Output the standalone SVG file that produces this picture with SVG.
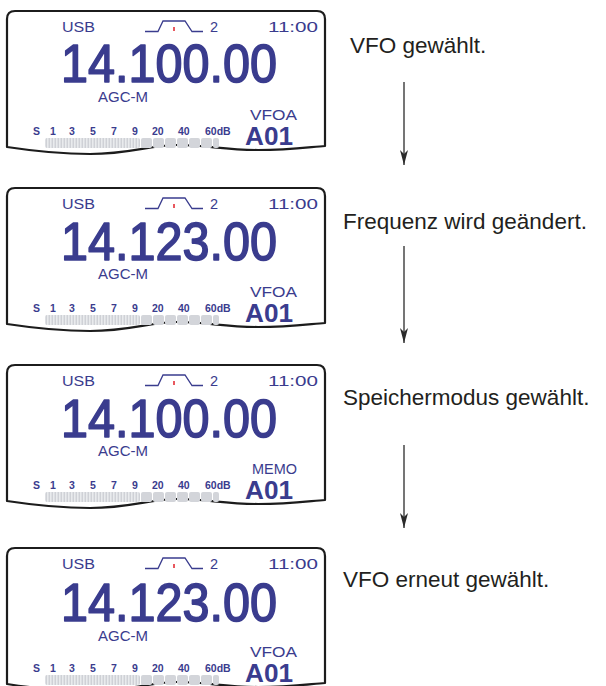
<svg xmlns="http://www.w3.org/2000/svg" width="606" height="686" viewBox="0 0 606 686">
<style>
.frame{fill:#fff;stroke:#1c1c1c;stroke-width:2.2;stroke-linejoin:round}
.lcd{fill:#3a3c8e;font-family:"Liberation Sans",Arial,sans-serif}
.big{font-size:53px;stroke:#3a3c8e;stroke-width:1.6;stroke-linejoin:round}
.sm{font-size:14.5px}
.sc{font-size:10.5px;font-weight:bold}
.ab{font-size:25px;font-weight:bold}
.lbl{fill:#231f20;font-family:"Liberation Sans",Arial,sans-serif;font-size:22.5px}
.arr{stroke:#2b2b2b;stroke-width:1.3;fill:none}
.icon{stroke:#3a3c8e;stroke-width:1.3;fill:none}
</style>
<defs>
<marker id="ah" viewBox="0 0 15 8" refX="15" refY="4" markerWidth="15" markerHeight="8" markerUnits="userSpaceOnUse" orient="auto">
<path d="M0,0 L15,4 L0,8 L4,4 Z" fill="#2b2b2b"/>
</marker>
<pattern id="stripes" x="0" y="0" width="3" height="10" patternUnits="userSpaceOnUse">
<rect x="0" y="0" width="3" height="10" fill="#eceef0"/>
<rect x="0.5" y="0" width="1.6" height="10" fill="#cfd1d6"/>
</pattern>
<g id="tpl">
<path class="frame" d="M7,136 V8 Q7,0 15,0 H317 Q325,0 325,8 V135 C310,136 290,139 258,139 C225,139 205,134 177,134 C150,134 130,143 90,143 C60,143 40,141 7,136 Z"/>
<path class="icon" d="M145,20.5 H158 L163,10 H185 L192,20.5 H203"/>
<line x1="174" y1="16" x2="174" y2="20" stroke="#e0202a" stroke-width="1.5"/>
<rect x="45" y="127" width="95" height="10" rx="2" fill="url(#stripes)"/>
<g fill="#d3d5da">
<rect x="141" y="127" width="11" height="10" rx="2"/>
<rect x="153" y="127" width="11" height="10" rx="2"/>
<rect x="165" y="127" width="11" height="10" rx="2"/>
<rect x="177" y="127" width="11" height="10" rx="2"/>
<rect x="189" y="127" width="11" height="10" rx="2"/>
<rect x="201" y="127" width="11" height="10" rx="2"/>
<rect x="213" y="127" width="6" height="10" rx="2"/>
</g>
</g>
</defs>

<g id="connectors">
<line class="arr" x1="404" y1="82" x2="404" y2="165" marker-end="url(#ah)"/>
<line class="arr" x1="404" y1="246" x2="404" y2="343" marker-end="url(#ah)"/>
<line class="arr" x1="404" y1="445" x2="404" y2="528" marker-end="url(#ah)"/>
</g>

<g id="panel1" transform="translate(0,11)">
<use href="#tpl"/>
<text class="lcd sm" x="62" y="21" textLength="33" lengthAdjust="spacingAndGlyphs">USB</text>
<text class="lcd sm" x="210" y="21">2</text>
<text class="lcd sm" x="268" y="21" textLength="50" lengthAdjust="spacingAndGlyphs">11:00</text>
<text class="lcd big" x="61" y="71" textLength="216" lengthAdjust="spacingAndGlyphs">14.100.00</text>
<text class="lcd sm" x="98" y="91" textLength="50" lengthAdjust="spacingAndGlyphs">AGC-M</text>
<text class="lcd sm" x="250" y="109" textLength="47" lengthAdjust="spacingAndGlyphs">VFOA</text>
<text class="lcd sc" y="124"><tspan x="33">S</tspan><tspan x="50">1</tspan><tspan x="69">3</tspan><tspan x="90">5</tspan><tspan x="111">7</tspan><tspan x="132">9</tspan><tspan x="152">20</tspan><tspan x="178">40</tspan><tspan x="205">60dB</tspan></text>
<text class="lcd ab" x="245" y="134" textLength="48" lengthAdjust="spacingAndGlyphs">A01</text>
</g>
<g id="label1"><text class="lbl" x="350" y="53">VFO gewählt.</text></g>

<g id="panel2" transform="translate(0,188)">
<use href="#tpl"/>
<text class="lcd sm" x="62" y="21" textLength="33" lengthAdjust="spacingAndGlyphs">USB</text>
<text class="lcd sm" x="210" y="21">2</text>
<text class="lcd sm" x="268" y="21" textLength="50" lengthAdjust="spacingAndGlyphs">11:00</text>
<text class="lcd big" x="61" y="72" textLength="216" lengthAdjust="spacingAndGlyphs">14.123.00</text>
<text class="lcd sm" x="98" y="91" textLength="50" lengthAdjust="spacingAndGlyphs">AGC-M</text>
<text class="lcd sm" x="250" y="109" textLength="47" lengthAdjust="spacingAndGlyphs">VFOA</text>
<text class="lcd sc" y="124"><tspan x="33">S</tspan><tspan x="50">1</tspan><tspan x="69">3</tspan><tspan x="90">5</tspan><tspan x="111">7</tspan><tspan x="132">9</tspan><tspan x="152">20</tspan><tspan x="178">40</tspan><tspan x="205">60dB</tspan></text>
<text class="lcd ab" x="245" y="134" textLength="48" lengthAdjust="spacingAndGlyphs">A01</text>
</g>
<g id="label2"><text class="lbl" x="343" y="229">Frequenz wird geändert.</text></g>

<g id="panel3" transform="translate(0,365)">
<use href="#tpl"/>
<text class="lcd sm" x="62" y="21" textLength="33" lengthAdjust="spacingAndGlyphs">USB</text>
<text class="lcd sm" x="210" y="21">2</text>
<text class="lcd sm" x="268" y="21" textLength="50" lengthAdjust="spacingAndGlyphs">11:00</text>
<text class="lcd big" x="61" y="72" textLength="216" lengthAdjust="spacingAndGlyphs">14.100.00</text>
<text class="lcd sm" x="98" y="91" textLength="50" lengthAdjust="spacingAndGlyphs">AGC-M</text>
<text class="lcd sm" x="252" y="109" textLength="45" lengthAdjust="spacingAndGlyphs">MEMO</text>
<text class="lcd sc" y="124"><tspan x="33">S</tspan><tspan x="50">1</tspan><tspan x="69">3</tspan><tspan x="90">5</tspan><tspan x="111">7</tspan><tspan x="132">9</tspan><tspan x="152">20</tspan><tspan x="178">40</tspan><tspan x="205">60dB</tspan></text>
<text class="lcd ab" x="245" y="134" textLength="48" lengthAdjust="spacingAndGlyphs">A01</text>
</g>
<g id="label3"><text class="lbl" x="343" y="405">Speichermodus gewählt.</text></g>

<g id="panel4" transform="translate(0,548)">
<use href="#tpl"/>
<text class="lcd sm" x="62" y="21" textLength="33" lengthAdjust="spacingAndGlyphs">USB</text>
<text class="lcd sm" x="210" y="21">2</text>
<text class="lcd sm" x="268" y="21" textLength="50" lengthAdjust="spacingAndGlyphs">11:00</text>
<text class="lcd big" x="61" y="73" textLength="216" lengthAdjust="spacingAndGlyphs">14.123.00</text>
<text class="lcd sm" x="98" y="93" textLength="50" lengthAdjust="spacingAndGlyphs">AGC-M</text>
<text class="lcd sm" x="250" y="109" textLength="47" lengthAdjust="spacingAndGlyphs">VFOA</text>
<text class="lcd sc" y="124"><tspan x="33">S</tspan><tspan x="50">1</tspan><tspan x="69">3</tspan><tspan x="90">5</tspan><tspan x="111">7</tspan><tspan x="132">9</tspan><tspan x="152">20</tspan><tspan x="178">40</tspan><tspan x="205">60dB</tspan></text>
<text class="lcd ab" x="245" y="134" textLength="48" lengthAdjust="spacingAndGlyphs">A01</text>
</g>
<g id="label4"><text class="lbl" x="343" y="587">VFO erneut gewählt.</text></g>
</svg>
